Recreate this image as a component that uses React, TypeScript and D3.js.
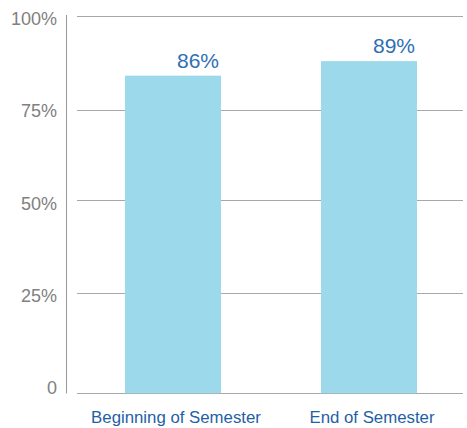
import React from "react";
import * as d3 from "d3";

const categories = ["Beginning of Semester", "End of Semester"];
const values = [84.2, 88.1];
const valueLabels = ["86%", "89%"];
const yTicks = [0, 25, 50, 75, 100];
const yTickLabels = ["0", "25%", "50%", "75%", "100%"];

export default function App() {
  const W = 467, H = 428;
  const y = d3.scaleLinear().domain(yTicks).range([393.3, 293.7, 200.3, 110, 16.7]);
  const yLabel = d3.scaleLinear().domain([0, 100]).range([394, 25]);
  const x = d3.scaleBand().domain(categories).range([78, 464]).paddingInner(0.5102).paddingOuter(0.2398);
  const font = "'Liberation Sans', Arial, Helvetica, sans-serif";
  return (
    <svg width={W} height={H} style={{ position: "absolute", left: 0, top: 0 }}>
      <line x1={66.5} x2={66.5} y1={15} y2={393.5} stroke="#999" strokeWidth={1} />
      {yTicks.map((t, i) => (
        <g key={t}>
          <line x1={77} x2={463} y1={Math.floor(y(t)) + 0.5} y2={Math.floor(y(t)) + 0.5} stroke="#a8a8a8" strokeWidth={1} />
          <text x={57} y={yLabel(t)} textAnchor="end" fontFamily={font} fontSize={18} fill="#808080">
            {yTickLabels[i]}
          </text>
        </g>
      ))}
      {categories.map((c, i) => (
        <g key={c}>
          <rect x={x(c)} y={y(values[i])} width={x.bandwidth()} height={y(0) - y(values[i])} fill="#9cd9ea" />
          <text x={(x(c) as number) + x.bandwidth() - 2} y={y(values[i]) - 8} textAnchor="end" fontFamily={font} fontSize={21} fill="#2f6fb5">
            {valueLabels[i]}
          </text>
          <text x={(x(c) as number) + x.bandwidth() / 2 + 3} y={423} textAnchor="middle" fontFamily={font} fontSize={16.8} fill="#1f5fa6">
            {c}
          </text>
        </g>
      ))}
    </svg>
  );
}
